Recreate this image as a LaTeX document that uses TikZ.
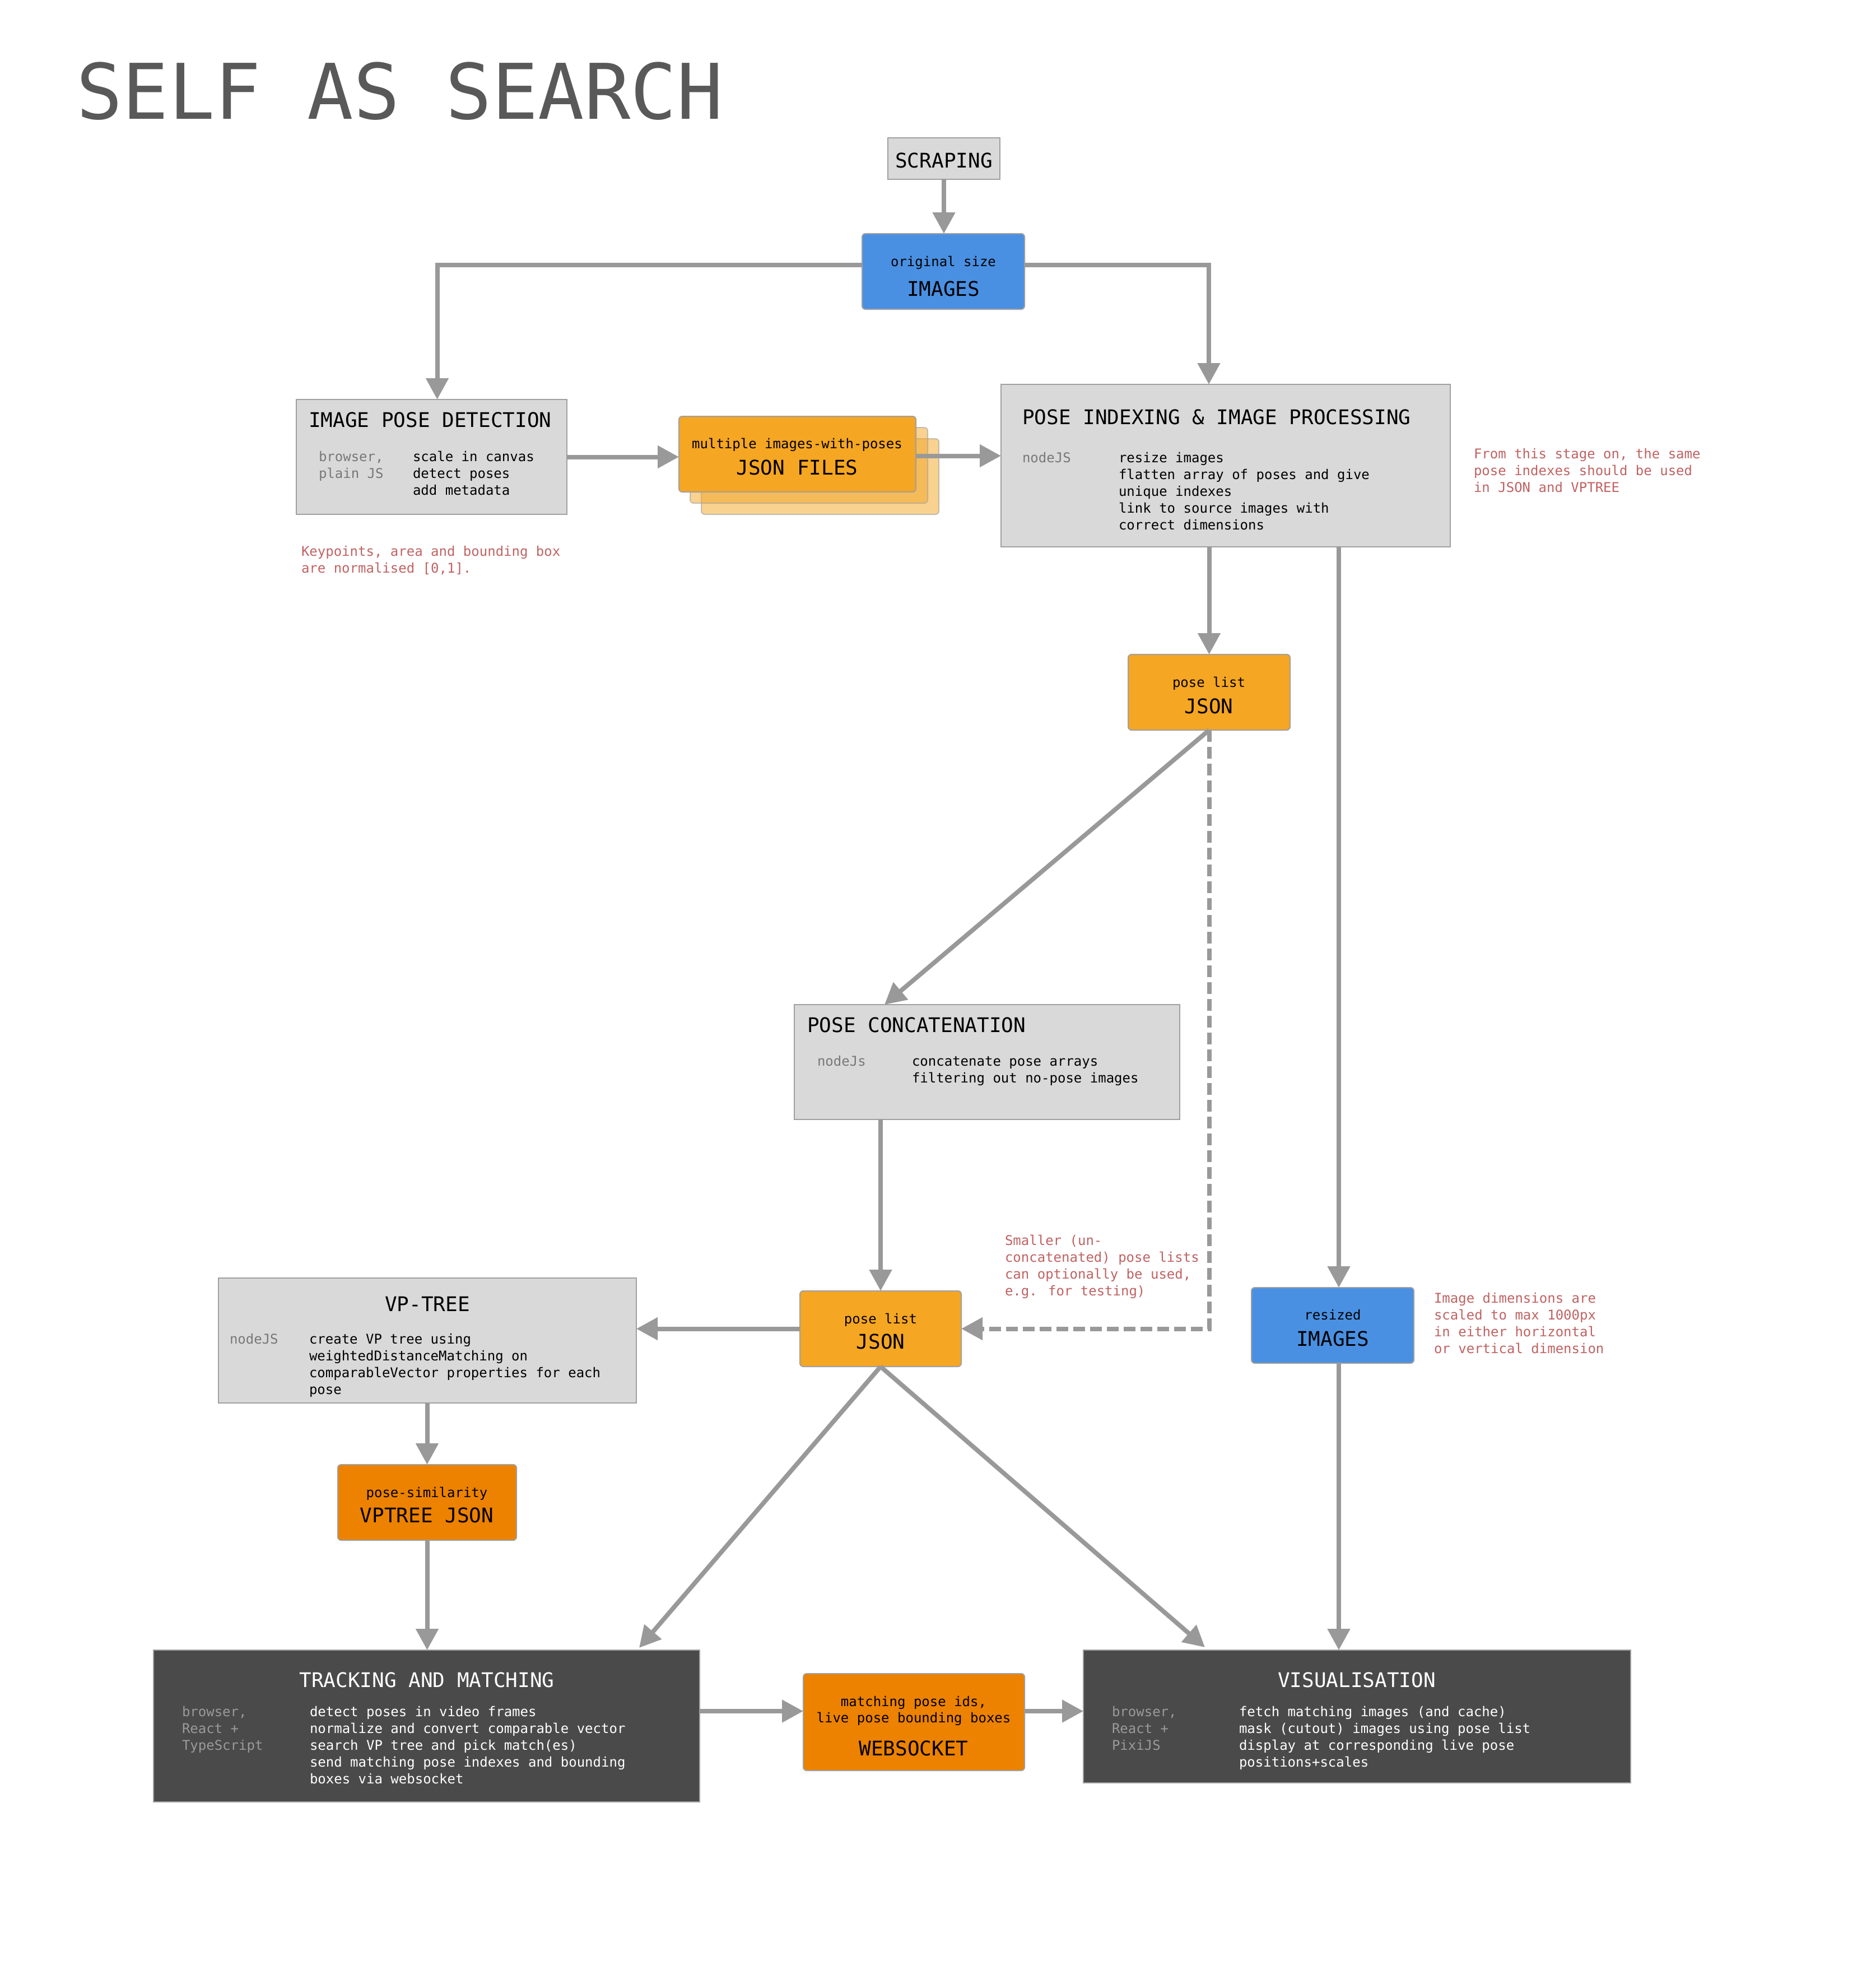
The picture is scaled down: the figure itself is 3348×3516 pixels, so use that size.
\documentclass[tikz,border=0pt]{standalone}
\usepackage{fontspec}
\setmainfont{DejaVu Sans Mono}
\usetikzlibrary{arrows.meta}
\definecolor{gfill}{HTML}{D9D9D9}
\definecolor{bordc}{HTML}{A0A0A0}
\definecolor{blu}{HTML}{4A90E2}
\definecolor{orng}{HTML}{F5A623}
\definecolor{dorng}{HTML}{EC8200}
\definecolor{dark}{HTML}{4A4A4A}
\definecolor{arrc}{HTML}{999999}
\definecolor{notec}{HTML}{C06262}
\definecolor{ttl}{HTML}{595959}
\definecolor{sidec}{HTML}{787878}
\definecolor{dsidec}{HTML}{9A9A9A}
\newcommand\stk[1]{\vtop{\let\\\cr\halign{##\hfil\cr#1\crcr}}}
\tikzset{
  anybox/.style={draw=bordc, line width=2pt, inner sep=0pt, outer sep=0pt, anchor=north west},
  gbox/.style={anybox, fill=gfill},
  bbox/.style={anybox, fill=blu, rounded corners=6pt},
  obox/.style={anybox, fill=orng, rounded corners=6pt},
  dobox/.style={anybox, fill=dorng, rounded corners=6pt},
  dkbox/.style={anybox, fill=dark},
  arr/.style={draw=arrc, line width=8pt, -{Triangle[width=39pt,length=38pt]}},
  darr/.style={arr, dash pattern=on 21pt off 9pt},
  sm/.style={inner sep=0pt, outer sep=0pt, anchor=base west, font=\fontsize{24}{30}\selectfont},
  smc/.style={sm, anchor=base},
  hd/.style={inner sep=0pt, outer sep=0pt, anchor=base west, font=\fontsize{36}{42}\selectfont},
  hdc/.style={hd, anchor=base},
  side/.style={sm, text=sidec},
  dside/.style={sm, text=dsidec},
  notetxt/.style={sm, text=notec},
}
\begin{document}
\begin{tikzpicture}[x=1pt,y=-1pt]
\fill[white] (0,0) rectangle (3348,3516);
\useasboundingbox (0,0) rectangle (3348,3516);

% title
\node[anchor=base west, inner sep=0pt, text=ttl, font=\fontsize{137}{140}\selectfont] (title) at (136,213) {SELF AS SEARCH};

% boxes
\node[gbox, minimum width=200pt, minimum height=74pt] (scr) at (1585,246) {};
\node[bbox, minimum width=290pt, minimum height=135pt] (img) at (1539,417) {};
\node[gbox, minimum width=483pt, minimum height=205pt] (ipd) at (529,713) {};
\node[obox, fill opacity=.5, draw opacity=.6, minimum width=424pt, minimum height=135pt] (jf3) at (1252,783) {};
\node[obox, fill opacity=.5, draw opacity=.6, minimum width=424pt, minimum height=135pt] (jf2) at (1232,763) {};
\node[obox, minimum width=423pt, minimum height=135pt] (jf1) at (1212,743) {};
\node[gbox, minimum width=802pt, minimum height=290pt] (piip) at (1787,686) {};
\node[obox, minimum width=289pt, minimum height=135pt] (pl1) at (2014,1168) {};
\node[gbox, minimum width=688pt, minimum height=205pt] (conc) at (1418,1793) {};
\node[bbox, minimum width=290pt, minimum height=135pt] (res) at (2234,2298) {};
\node[obox, minimum width=288pt, minimum height=135pt] (pl2) at (1428,2304) {};
\node[gbox, minimum width=746pt, minimum height=223pt] (vpt) at (390,2281) {};
\node[dobox, minimum width=319pt, minimum height=135pt] (vj) at (603,2614) {};
\node[dkbox, minimum width=975pt, minimum height=271pt] (trk) at (274,2945) {};
\node[dobox, minimum width=395pt, minimum height=173pt] (ws) at (1434,2987) {};
\node[dkbox, minimum width=977pt, minimum height=237pt] (vis) at (1934,2945) {};

% helper coordinates
\coordinate (cx) at (2390,0);
\coordinate (wsy) at (0,3054);
\coordinate (tkin) at (1141,2941);
\coordinate (vsin) at (2151,2940);

% connectors
\draw[arr] (scr.south) -- (scr.south |- img.north);
\draw[arr] ([yshift=12pt]img.west) -| ([xshift=10pt]ipd.north);
\draw[arr] ([yshift=12pt]img.east) -| ([xshift=-30pt]piip.north);
\draw[arr] (ipd.east) -- (ipd.east -| jf1.west);
\draw[arr] ([yshift=-3pt]jf1.east) -- ([yshift=-3pt]jf1.east -| piip.west);
\draw[arr] (piip.south -| pl1.north) -- (pl1.north);
\draw[arr] (piip.south -| cx) -- (res.north -| cx);
\draw[arr] (pl1.south) -- ([xshift=161pt]conc.north west);
\draw[darr] (pl1.south) |- (pl2.east);
\draw[arr] (conc.south -| pl2.north) -- (pl2.north);
\draw[arr] (pl2.west) -- (pl2.west -| vpt.east);
\draw[arr] (vpt.south -| vj.north) -- (vj.north);
\draw[arr] (vj.south) -- (vj.south |- trk.north);
\draw[arr] (pl2.south) -- (tkin);
\draw[arr] (pl2.south) -- (vsin);
\draw[arr] (res.south -| cx) -- (vis.north -| cx);
\draw[arr] (trk.east |- wsy) -- (ws.west |- wsy);
\draw[arr] (ws.east |- wsy) -- (vis.west |- wsy);

% texts
\node[hdc] (scrT) at (1685,299) {SCRAPING};

\node[smc] (imgA) at (1684,475) {original size};
\node[hdc] (imgB) at (1684,528) {IMAGES};

\node[hd] (ipdT) at (551,762) {IMAGE POSE DETECTION};
\node[side] (ipdS) at (569,823) {\stk{browser,\\plain JS}};
\node[sm] (ipdR) at (737,823) {\stk{scale in canvas\\detect poses\\add metadata}};

\node[smc] (jfA) at (1423,800) {multiple images-with-poses};
\node[hdc] (jfB) at (1423,847) {JSON FILES};

\node[hd] (piipT) at (1825,757) {POSE INDEXING \& IMAGE PROCESSING};
\node[side] (piipS) at (1825,825) {nodeJS};
\node[sm] (piipR) at (1997,825) {\stk{resize images\\flatten array of poses and give\\unique indexes\\link to source images with\\correct dimensions}};

\node[smc] (pl1A) at (2158,1226) {pose list};
\node[hdc] (pl1B) at (2158,1273) {JSON};

\node[hd] (concT) at (1441,1842) {POSE CONCATENATION};
\node[side] (concS) at (1459,1902) {nodeJs};
\node[sm] (concR) at (1628,1902) {\stk{concatenate pose arrays\\filtering out no-pose images}};

\node[smc] (resA) at (2379,2355) {resized};
\node[hdc] (resB) at (2379,2402) {IMAGES};

\node[smc] (pl2A) at (1572,2362) {pose list};
\node[hdc] (pl2B) at (1572,2407) {JSON};

\node[hdc] (vptT) at (763,2340) {VP-TREE};
\node[side] (vptS) at (410,2398) {nodeJS};
\node[sm] (vptR) at (552,2398) {\stk{create VP tree using\\weightedDistanceMatching on\\comparableVector properties for each\\pose}};

\node[smc] (vjA) at (762,2672) {pose-similarity};
\node[hdc] (vjB) at (762,2717) {VPTREE JSON};

\node[hdc, text=white] (trkT) at (762,3011) {TRACKING AND MATCHING};
\node[dside] (trkS) at (325,3063) {\stk{browser,\\React +\\TypeScript}};
\node[sm, text=white] (trkR) at (553,3063) {\stk{detect poses in video frames\\normalize and convert comparable vector\\search VP tree and pick match(es)\\send matching pose indexes and bounding\\boxes via websocket}};

\node[smc] (wsA) at (1631,3045) {matching pose ids,};
\node[smc] (wsB) at (1631,3074) {live pose bounding boxes};
\node[hdc] (wsC) at (1631,3133) {WEBSOCKET};

\node[hdc, text=white] (visT) at (2422,3011) {VISUALISATION};
\node[dside] (visS) at (1985,3063) {\stk{browser,\\React +\\PixiJS}};
\node[sm, text=white] (visR) at (2212,3063) {\stk{fetch matching images (and cache)\\mask (cutout) images using pose list\\display at corresponding live pose\\positions+scales}};

% notes
\node[notetxt] (n1) at (538,992) {\stk{Keypoints, area and bounding box\\are normalised [0,1].}};
\node[notetxt] (n2) at (2631,818) {\stk{From this stage on, the same\\pose indexes should be used\\in JSON and VPTREE}};
\node[notetxt] (n3) at (1794,2222) {\stk{Smaller (un-\\concatenated) pose lists\\can optionally be used,\\e.g. for testing)}};
\node[notetxt] (n4) at (2560,2325) {\stk{Image dimensions are\\scaled to max 1000px\\in either horizontal\\or vertical dimension}};
\end{tikzpicture}
\end{document}
